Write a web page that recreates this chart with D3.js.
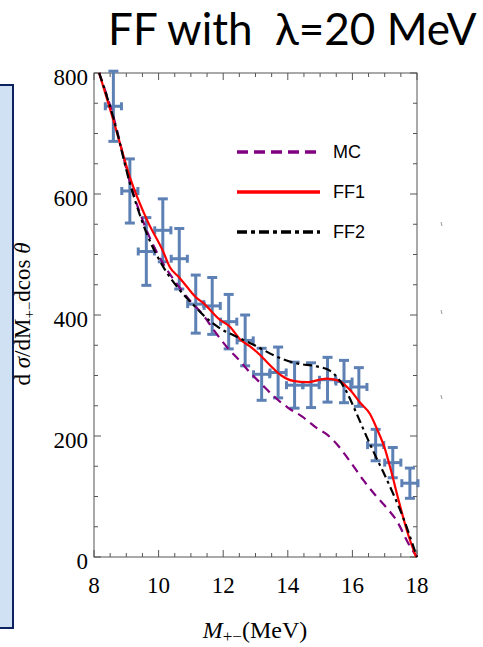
<!DOCTYPE html>
<html>
<head>
<meta charset="utf-8">
<script src="https://cdn.jsdelivr.net/npm/d3@7"></script>
<style>
  body { margin: 0; background: #fff; }
  svg { display: block; }
</style>
</head>
<body>
<div id="chart"></div>
<script>
// measured points (M+-, dsigma) with errors
var ptX = [8.6, 9.11, 9.62, 10.13, 10.64, 11.15, 11.66, 12.17, 12.68, 13.19, 13.7, 14.21, 14.72, 15.23, 15.74, 16.2, 16.72, 17.25, 17.78];
var ptY = [745, 605, 505, 540, 493, 418, 415, 389, 358, 302, 305, 284, 284, 293, 290, 281, 185, 156, 122];
var ptErr = [58, 53, 56, 52, 50, 48, 47, 45, 42, 43, 42, 38, 37, 37, 35, 32, 26, 25, 25];
var xErr = 0.25;

// curves
var mcX = [8.16, 8.6, 9.11, 9.63, 10.14, 10.56, 11.0, 11.38, 11.75, 12.1, 12.5, 12.83, 13.2, 13.6, 14.0, 14.45, 14.9, 15.2, 15.56, 15.9, 16.34, 16.7, 17.0, 17.37, 17.78, 18.0];
var mcY = [800, 728, 620, 540, 485, 452, 422, 400, 372, 348, 325, 305, 285, 264, 247, 232, 213, 203, 184, 160, 127, 103, 85, 60, 18, 0];

var ff1X = [8.16, 8.6, 9.11, 9.65, 10.14, 10.35, 10.64, 10.87, 11.16, 11.38, 11.9, 12.2, 12.52, 12.83, 13.14, 13.45, 13.8, 14.17, 14.6, 15.2, 15.55, 15.93, 16.24, 16.55, 16.75, 17.0, 17.2, 17.42, 17.68, 17.97];
var ff1Y = [800, 722, 628, 556, 505, 479, 462, 447, 429, 420, 392, 381, 360, 348, 334, 317, 300, 291, 289, 295, 292, 276, 255, 236, 213, 180, 142, 96, 45, 0];

var ff2X = [8.16, 8.6, 9.11, 9.63, 10.14, 10.66, 11.18, 11.38, 11.9, 12.42, 13.04, 13.66, 14.28, 14.9, 15.3, 15.56, 15.82, 16.13, 16.44, 16.75, 16.96, 17.25, 17.58, 17.89, 18.0];
var ff2Y = [800, 726, 618, 535, 480, 441, 411, 400, 378, 364, 348, 331, 320, 315, 308, 295, 273, 237, 199, 163, 140, 106, 64, 17, 0];

var xTicks = [8, 10, 12, 14, 16, 18];
var yTicks = [0, 200, 400, 600, 800];
var legendNames = ["MC", "FF1", "FF2"];

var W = 483, H = 647;
// plot box (window.top is read-only, so no plain "top" here)
var pL = 94, pR = 417, pT = 73, pB = 557;

var svg = d3.select("#chart").append("svg")
  .attr("width", W)
  .attr("height", H);

// blue box on the left
svg.append("rect")
  .attr("x", -6).attr("y", 85)
  .attr("width", 19).attr("height", 543)
  .attr("fill", "#cfe1f2")
  .attr("stroke", "#0d2260")
  .attr("stroke-width", 2);

// title
svg.append("text")
  .attr("x", 108).attr("y", 45)
  .attr("font-family", "Lato, 'Open Sans', sans-serif")
  .attr("font-size", 44)
  .attr("fill", "#000")
  .text("FF with \u00a0\u03bb=20 MeV");

var x = d3.scaleLinear().domain([8, 18]).range([pL, pR]);
var y = d3.scaleLinear().domain([0, 800]).range([pB, pT]);

// frame + ticks
var frameCol = "#555";
var gAx = svg.append("g");
gAx.append("rect")
  .attr("x", pL).attr("y", pT)
  .attr("width", pR - pL).attr("height", pB - pT)
  .attr("fill", "none").attr("stroke", frameCol).attr("stroke-width", 1);

d3.range(8, 18.01, 0.5).forEach(function(v) {
  var major = Math.abs(v % 2) < 1e-6;
  var len = major ? 7 : 4;
  gAx.append("line").attr("x1", x(v)).attr("x2", x(v)).attr("y1", pB).attr("y2", pB - len)
    .attr("stroke", frameCol);
  gAx.append("line").attr("x1", x(v)).attr("x2", x(v)).attr("y1", pT).attr("y2", pT + len)
    .attr("stroke", frameCol);
});
d3.range(0, 801, 50).forEach(function(v) {
  var major = v % 200 === 0;
  var len = major ? 7 : 4;
  gAx.append("line").attr("y1", y(v)).attr("y2", y(v)).attr("x1", pL).attr("x2", pL + len)
    .attr("stroke", frameCol);
  gAx.append("line").attr("y1", y(v)).attr("y2", y(v)).attr("x1", pR).attr("x2", pR - len)
    .attr("stroke", frameCol);
});

var serif = "'Liberation Serif', 'Times New Roman', serif";
gAx.selectAll(".xl").data(xTicks).enter().append("text")
  .attr("x", function(d) { return x(d); })
  .attr("y", 593)
  .attr("text-anchor", "middle")
  .attr("font-family", serif).attr("font-size", 23)
  .text(function(d) { return d; });
gAx.selectAll(".yl").data(yTicks).enter().append("text")
  .attr("x", 88)
  .attr("y", function(d) { return y(d) + 12; })
  .attr("text-anchor", "end")
  .attr("font-family", serif).attr("font-size", 23)
  .text(function(d) { return d; });

// axis labels
var xl = svg.append("text")
  .attr("x", 255).attr("y", 638)
  .attr("text-anchor", "middle")
  .attr("font-family", serif).attr("font-size", 24);
xl.append("tspan").attr("font-style", "italic").text("M");
xl.append("tspan").attr("font-size", 17).attr("dy", 4).text("+\u2212");
xl.append("tspan").attr("dy", -4).text("(MeV)");

var yl = svg.append("text")
  .attr("transform", "translate(30,314) rotate(-90)")
  .attr("text-anchor", "middle")
  .attr("font-family", serif).attr("font-size", 23);
yl.append("tspan").text("d ");
yl.append("tspan").attr("font-style", "italic").text("\u03c3");
yl.append("tspan").text("/dM");
yl.append("tspan").attr("font-size", 15).attr("dy", 4).text("+\u2212");
yl.append("tspan").attr("dy", -4).text("dcos\u00a0");
yl.append("tspan").attr("font-style", "italic").text("\u03b8");

// faint marks right of the frame
[222, 310, 395].forEach(function(v) {
  svg.append("line").attr("x1", 441).attr("x2", 442).attr("y1", v).attr("y2", v + 4)
    .attr("stroke", "#999").attr("stroke-width", 1);
});

// error bars
var blue = "#5e81b5";
var gPts = svg.append("g").attr("stroke", blue).attr("stroke-width", 3).attr("fill", "none");
ptX.forEach(function(px, i) {
  var cx = x(px), cy = y(ptY[i]);
  var y1 = y(ptY[i] + ptErr[i]), y2 = y(ptY[i] - ptErr[i]);
  var x1 = x(px - xErr), x2 = x(px + xErr);
  gPts.append("line").attr("x1", cx).attr("x2", cx).attr("y1", y1).attr("y2", y2);
  gPts.append("line").attr("x1", cx - 5).attr("x2", cx + 5).attr("y1", y1).attr("y2", y1);
  gPts.append("line").attr("x1", cx - 5).attr("x2", cx + 5).attr("y1", y2).attr("y2", y2);
  gPts.append("line").attr("x1", x1).attr("x2", x2).attr("y1", cy).attr("y2", cy);
  gPts.append("line").attr("x1", x1).attr("x2", x1).attr("y1", cy - 4).attr("y2", cy + 4);
  gPts.append("line").attr("x1", x2).attr("x2", x2).attr("y1", cy - 4).attr("y2", cy + 4);
});

// curves
var line = d3.line()
  .x(function(d) { return x(d[0]); })
  .y(function(d) { return y(d[1]); })
  .curve(d3.curveMonotoneX);

var series = [
  { xs: mcX, ys: mcY, color: "#800080", dash: "9,6", w: 2.2 },
  { xs: ff1X, ys: ff1Y, color: "#ff0000", dash: null, w: 2.2 },
  { xs: ff2X, ys: ff2Y, color: "#000000", dash: "9,4,3,4", w: 2.2 }
];
series.forEach(function(s) {
  svg.append("path")
    .datum(d3.zip(s.xs, s.ys))
    .attr("d", line)
    .attr("fill", "none")
    .attr("stroke", s.color)
    .attr("stroke-width", s.w)
    .attr("stroke-dasharray", s.dash);
});

// legend
var legDash = ["11,6", null, "10,4,4,4"];
legendNames.forEach(function(name, i) {
  var ly = 152 + i * 40;
  svg.append("line")
    .attr("x1", 237).attr("x2", 320).attr("y1", ly).attr("y2", ly)
    .attr("stroke", series[i].color)
    .attr("stroke-width", 3.5)
    .attr("stroke-dasharray", legDash[i]);
  svg.append("text")
    .attr("x", 333).attr("y", ly + 6)
    .attr("font-family", "'Liberation Sans', Arial, sans-serif")
    .attr("font-size", 18)
    .text(name);
});
</script>
</body>
</html>
